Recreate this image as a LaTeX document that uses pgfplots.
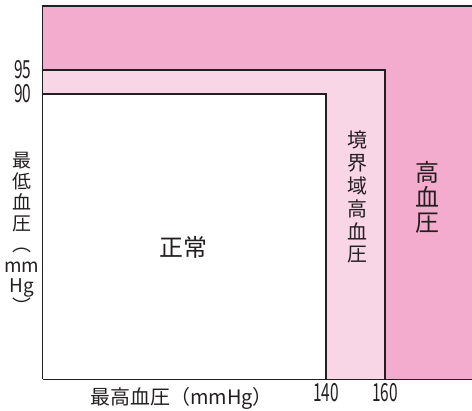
\documentclass[border=0pt]{standalone}
\usepackage{fontspec}
\setmainfont{Noto Sans CJK JP}
\newfontfamily\numfont[FakeStretch=0.62]{Noto Sans CJK JP}
\usepackage{pgfplots}
\pgfplotsset{compat=1.18}

\definecolor{hyper}{HTML}{F3ACCE}
\definecolor{border}{HTML}{F9D6E6}
\definecolor{ink}{HTML}{231F20}

\begin{document}
\begin{tikzpicture}[x=1bp,y=1bp]
\begin{axis}[
  scale only axis, width=429bp, height=373bp,
  xmin=44, xmax=189.5, ymin=30.6, ymax=108.3,
  axis x line=bottom, axis y line=left,
  axis line style={-, ink, line width=1.6bp},
  xtick={140,160}, xticklabels={140,160},
  ytick={90,95}, yticklabels={90,95},
  major tick length=0pt,
  /pgf/number format/assume math mode=true,
  tick label style={font=\numfont\fontsize{25}{25}\selectfont, text=ink},
  yticklabel style={xshift=-8bp},
  xticklabel style={yshift=-1bp},
  clip=false,
]
% regions
\addplot[fill=hyper, draw=none] coordinates {(44,30.6) (189.5,30.6) (189.5,108.3) (44,108.3)} -- cycle;
\addplot[fill=border, draw=none] coordinates {(44,30.6) (160,30.6) (160,95) (44,95)} -- cycle;
\addplot[fill=white, draw=none] coordinates {(44,30.6) (140,30.6) (140,90) (44,90)} -- cycle;
% borders
\addplot[ink, line width=1.6bp] coordinates {(44,95) (160,95) (160,30.6)};
\addplot[ink, line width=1.6bp] coordinates {(44,90) (140,90) (140,30.6)};
\addplot[ink, line width=1.6bp] coordinates {(43.5,108.3) (189.5,108.3)};
% labels
\node[font=\fontsize{24}{24}\selectfont, text=ink] at (axis cs:91.5,58) {正常};
\node[font=\fontsize{20}{23}\selectfont, text=ink, align=center] at (axis cs:150.5,68.5)
  {境\\界\\域\\高\\血\\圧};
\node[font=\fontsize{24}{25}\selectfont, text=ink, align=center] at (axis cs:174.5,68.5)
  {高\\血\\圧};
\node[font=\fontsize{20}{21}\selectfont, text=ink, anchor=north, inner sep=0pt]
  at (axis cs:91,30.6) [yshift=-8bp] {最高血圧（mmHg）};
\end{axis}
\node[font=\fontsize{19}{21}\selectfont, text=ink, align=center, inner sep=0pt]
  at (-21bp,146bp) {最\\低\\血\\圧\\︵\\mm\\Hg\\︶};
\pgfresetboundingbox
\path[use as bounding box] (-43bp,-32bp) rectangle (429bp,379bp);
\end{tikzpicture}
\end{document}
